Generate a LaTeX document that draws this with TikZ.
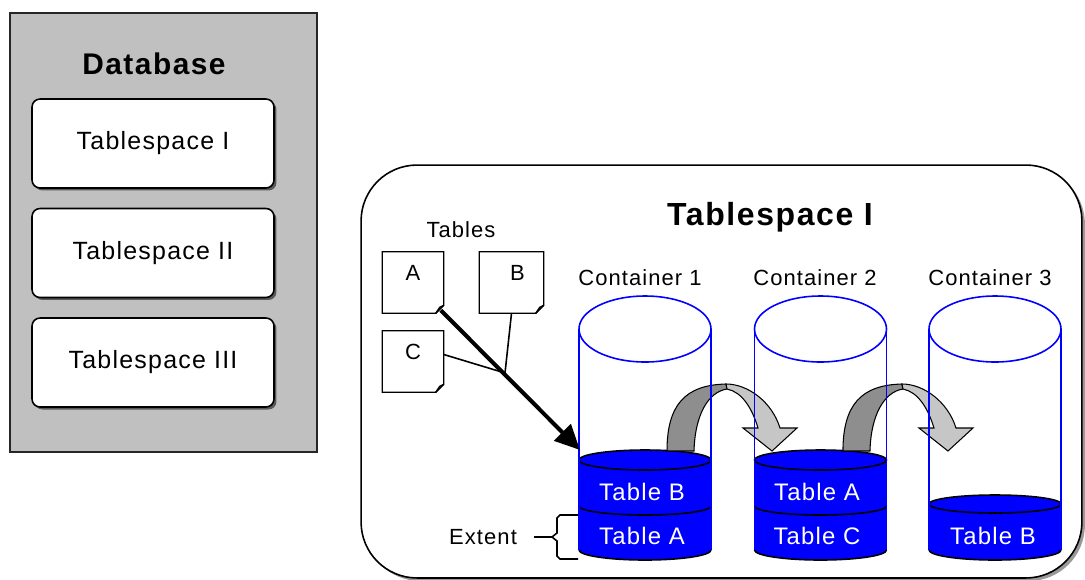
\documentclass[tikz,border=0pt]{standalone}
\usepackage{fontspec}
\setmainfont{Liberation Sans}[LetterSpace=5]
\usetikzlibrary{arrows.meta,shadows}

\definecolor{dbgray}{HTML}{C0C0C0}
\definecolor{arrdark}{HTML}{8E8E8E}
\definecolor{arrlight}{HTML}{C6C6C6}

\tikzset{
  txt/.style={font=\fontsize{12.5}{15}\selectfont, inner sep=0pt},
  tstxt/.style={font=\fontsize{14.2}{17}\selectfont},
  heading/.style={font=\fontsize{17}{20}\selectfont\bfseries, inner sep=0pt},
  tsbox/.style={draw, fill=white, rounded corners=0.16cm, minimum width=4.84cm,
    minimum height=1.78cm, tstxt,
    drop shadow={shadow xshift=0.05cm, shadow yshift=-0.05cm, fill=black!65, opacity=1}},
  tabicon/.style={txt, minimum size=1.2cm, text height=0.32cm, text depth=0.4cm},
  cyl/.style={draw=blue, line width=0.9pt},
  movearrow/.style={draw=black, line width=0.6pt},
  intab/.style={txt, font=\fontsize{13.6}{16}\selectfont, text=white},
}

\begin{document}
\begin{tikzpicture}[x=0.02cm, y=-0.02cm, line width=0.9pt]
\useasboundingbox (0,0) rectangle (1085,579);

% Database with its three tablespaces
\node[draw=black!85, fill=dbgray, line width=1.2pt, minimum width=6.14cm,
  minimum height=8.78cm] (db) at (163.5,232.5) {};
\node[heading] (dbtitle) at (154,64) {Database};
\node[tsbox] (ts1) at (153,143.5) {Tablespace I};
\node[tsbox] (ts2) at (153,253) {Tablespace II};
\node[tsbox] (ts3) at (153,362.5) {Tablespace III};

% Tablespace I opened up
\node[draw, fill=white, rounded corners=1.12cm, minimum width=14.42cm, minimum height=8.26cm,
  drop shadow={shadow xshift=0.06cm, shadow yshift=-0.06cm, fill=black!40, opacity=1}]
  (big) at (721.5,371.5) {};
\node[heading, font=\fontsize{18.2}{21}\selectfont\bfseries] (bigtitle) at (770,217) {Tablespace I};

% Tables
\node[txt] (tables) at (461,230) {Tables};
\node[tabicon] (tabA) at (413,282.5) {A};
\node[tabicon, minimum width=1.26cm] (tabB) at (511.5,282.5) {\hspace{0.24cm}B};
\node[tabicon] (tabC) at (413,361.5) {C};
\foreach \t in {tabA,tabB,tabC}{
  \draw[line width=0.8pt] (\t.north west) -- (\t.north east) -- ([yshift=0.16cm]\t.south east)
    -- ([xshift=-0.16cm]\t.south east) -- (\t.south west) -- cycle;
  \draw[line width=0.8pt] ([yshift=0.16cm]\t.south east) -- ([xshift=-0.08cm,yshift=0.12cm]\t.south east)
    -- ([xshift=-0.16cm]\t.south east);
}

% Containers
\node[txt] (cont1) at (640,278) {Container 1};
\node[txt] (cont2) at (815,278) {Container 2};
\node[txt] (cont3) at (990,278) {Container 3};

% Extents filled so far
\foreach \cx in {645,820.5}{
  \fill[blue] (\cx-66,460) -- (\cx-66,550) arc[start angle=180, end angle=0, x radius=66, y radius=10]
    -- (\cx+66,460) arc[start angle=0, end angle=-180, x radius=66, y radius=10] -- cycle;
  \draw (\cx,460) ellipse[x radius=66, y radius=10];
  \draw (\cx-66,506) arc[start angle=180, end angle=0, x radius=66, y radius=9];
  \draw (\cx-66,550) arc[start angle=180, end angle=0, x radius=66, y radius=10];
}
\fill[blue] (929,504) -- (929,550) arc[start angle=180, end angle=0, x radius=66, y radius=10]
  -- (1061,504) arc[start angle=0, end angle=-180, x radius=66, y radius=9] -- cycle;
\draw (995,504) ellipse[x radius=66, y radius=9];
\draw (929,550) arc[start angle=180, end angle=0, x radius=66, y radius=10];

% Round-robin arrows
\foreach \dx in {0,3.52}{
  \begin{scope}[xshift=\dx cm]
    \draw[movearrow, fill=arrdark] (667,451) .. controls (667,405) and (685,385) .. (726,384)
      -- (727,389) .. controls (708,392) and (695,415) .. (694,451) -- cycle;
    \draw[movearrow, fill=arrlight] (726,384) .. controls (748,384) and (772,402) .. (780,428)
      -- (797,428) -- (772,451) -- (743,428) -- (758,428)
      .. controls (752,408) and (742,392) .. (727,389) -- cycle;
  \end{scope}
}

% Container outlines
\foreach \cx in {645,820.5,995}{
  \draw[cyl] (\cx,329) ellipse[x radius=66, y radius=33];
  \draw[cyl] (\cx-66,329) -- (\cx-66,550) (\cx+66,329) -- (\cx+66,550);
}

% Table names in the extents
\node[intab] (c1b) at (642,492) {Table B};
\node[intab] (c1a) at (642,536) {Table A};
\node[intab] (c2a) at (817,492) {Table A};
\node[intab] (c2c) at (817,536) {Table C};
\node[intab] (c3b) at (993,536) {Table B};

% Tables go into the containers
\coordinate (join) at (505,373);
\coordinate (load) at (580,450);
\draw (tabB.south) -- (join);
\draw ([yshift=0.14cm]tabC.east) -- (join);
\draw[line width=2.3pt, -{Triangle[length=0.5cm, width=0.46cm]}]
  ([xshift=-0.06cm,yshift=0.06cm]tabA.south east) -- (load);

% Extent brace
\node[txt] (ext) at (483,537) {Extent};
\coordinate (brc) at (552,537);
\draw (578,515) -- (560,515) -- (557,518) -- (557,533) -- (brc) -- (557,541) -- (557,556)
  -- (560,559) -- (578,559);
\draw[shorten <=0.32cm] (ext.east) -- (brc);

\end{tikzpicture}
\end{document}
